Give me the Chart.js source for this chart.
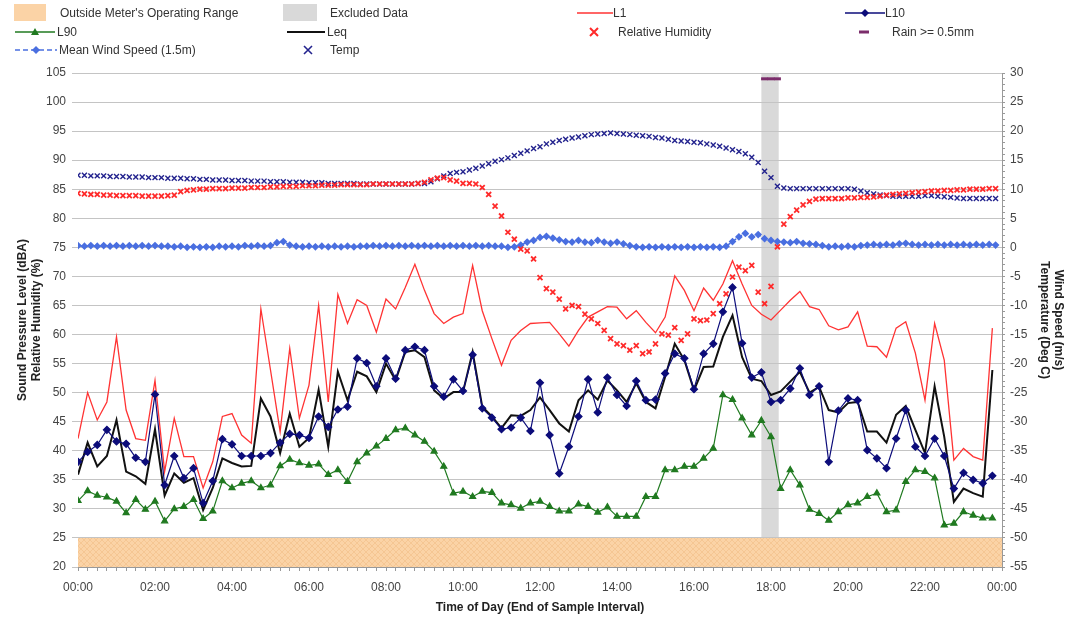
<!DOCTYPE html>
<html>
<head>
<meta charset="utf-8">
<script src="https://cdn.jsdelivr.net/npm/chart.js@4.4.1/dist/chart.umd.min.js"></script>
<style>
  html, body { margin: 0; padding: 0; background: #fff; }
  #wrap { position: relative; width: 1073px; height: 618px; font-family: "Liberation Sans", Arial, sans-serif; overflow: hidden; }
  #chart { position: absolute; left: 0; top: 0; }
  #legend { position: absolute; left: 0; top: 0; width: 1073px; height: 60px; font-size: 12px; color: #333; }
  #legend svg, #legend span { position: absolute; }
  #legend span { line-height: 14px; white-space: nowrap; }
</style>
</head>
<body>
<div id="wrap">
  <canvas id="chart" width="1073" height="618"></canvas>
  <div id="legend">
    <svg style="left:14px;top:4px" width="32" height="17"><rect width="32" height="17" fill="#fbd3a6"/></svg>
    <span style="left:60px;top:6px">Outside Meter's Operating Range</span>
    <svg style="left:283px;top:4px" width="34" height="17"><rect width="34" height="17" fill="#d9d9d9"/></svg>
    <span style="left:330px;top:6px">Excluded Data</span>
    <svg style="left:577px;top:7px" width="36" height="12"><line x1="0" y1="6" x2="36" y2="6" stroke="#ff3333" stroke-width="1.5"/></svg>
    <span style="left:613px;top:6px">L1</span>
    <svg style="left:845px;top:7px" width="40" height="12"><line x1="0" y1="6" x2="40" y2="6" stroke="#0c0c7a" stroke-width="1.5"/><polygon points="20,2 24,6 20,10 16,6" fill="#0c0c7a"/></svg>
    <span style="left:885px;top:6px">L10</span>

    <svg style="left:15px;top:26px" width="40" height="12"><line x1="0" y1="6" x2="40" y2="6" stroke="#207a20" stroke-width="1.5"/><polygon points="20,2 24,9 16,9" fill="#207a20"/></svg>
    <span style="left:57px;top:25px">L90</span>
    <svg style="left:287px;top:26px" width="38" height="12"><line x1="0" y1="6" x2="38" y2="6" stroke="#111" stroke-width="2"/></svg>
    <span style="left:327px;top:25px">Leq</span>
    <svg style="left:589px;top:26px" width="10" height="12"><path d="M1,2 L9,10 M9,2 L1,10" stroke="#ff2a2a" stroke-width="2"/></svg>
    <span style="left:618px;top:25px">Relative Humidity</span>
    <svg style="left:859px;top:26px" width="10" height="12"><line x1="0" y1="6" x2="10" y2="6" stroke="#7b2d6b" stroke-width="3"/></svg>
    <span style="left:892px;top:25px">Rain &gt;= 0.5mm</span>

    <svg style="left:15px;top:44px" width="42" height="12"><line x1="0" y1="6" x2="42" y2="6" stroke="#4a6fe0" stroke-width="1.5" stroke-dasharray="5,3"/><polygon points="21,2 25,6 21,10 17,6" fill="#4a6fe0"/></svg>
    <span style="left:59px;top:43px">Mean Wind Speed (1.5m)</span>
    <svg style="left:303px;top:44px" width="10" height="12"><path d="M1,2 L9,10 M9,2 L1,10" stroke="#23238e" stroke-width="1.6"/></svg>
    <span style="left:330px;top:43px">Temp</span>
  </div>
</div>
<script>
// noise levels, 15 minute intervals from 00:00 (dBA)
const NOISE_STEP_H = 0.25;
const L1 = [
  42.1, 50.0, 45.3, 48.4, 59.6, 47.0, 42.1, 41.8, 52.1, 36.4, 45.6, 39.0, 39.0, 33.6, 38.1, 45.9, 46.4, 42.7, 41.3, 64.4, 53.9, 43.3, 57.6, 45.6,
  51.3, 65.0, 48.4, 66.9, 61.9, 66.0, 65.0, 60.4, 66.1, 64.4, 68.1, 72.1, 67.6, 63.6, 61.9, 63.0, 63.6, 71.9, 64.1, 59.3, 54.7, 59.0, 60.7, 61.9,
  62.0, 62.1, 60.1, 58.0, 60.7, 63.0, 63.9, 64.8, 64.7, 62.7, 64.1, 62.1, 60.3, 63.0, 70.1, 67.6, 64.1, 68.0, 65.9, 68.7, 72.7, 68.7, 65.0, 63.5,
  62.5, 64.2, 65.9, 67.4, 64.8, 64.3, 61.5, 60.8, 61.3, 63.9, 58.0, 57.9, 56.1, 61.1, 62.2, 56.8, 48.7, 61.9, 55.6, 38.4, 40.4, 39.0, 38.4, 61.1
];
const L10 = [
  38.1, 39.8, 41.0, 43.6, 41.6, 41.2, 38.8, 38.1, 49.7, 34.1, 39.1, 35.3, 37.0, 31.0, 34.8, 42.0, 41.1, 39.1, 39.1, 39.1, 39.6, 41.4, 42.9, 42.7,
  42.2, 45.9, 44.1, 47.1, 47.6, 55.9, 55.1, 51.1, 55.9, 52.4, 57.3, 57.9, 57.3, 51.1, 49.3, 52.3, 50.3, 56.5, 47.3, 45.7, 43.7, 44.0, 45.7, 43.4,
  51.7, 42.7, 36.1, 40.7, 45.9, 52.3, 46.6, 52.6, 49.6, 47.7, 52.0, 48.7, 48.8, 53.3, 56.7, 55.9, 50.6, 56.7, 58.4, 63.9, 68.1, 58.5, 52.6, 53.5,
  48.4, 48.7, 50.7, 54.2, 49.6, 51.1, 38.1, 46.9, 49.0, 48.7, 40.1, 38.7, 37.0, 42.1, 47.0, 40.7, 39.1, 42.1, 39.1, 33.5, 36.2, 35.0, 34.4, 35.7
];
const L90 = [
  31.4, 33.1, 32.3, 32.0, 31.3, 29.3, 31.6, 29.9, 31.3, 27.9, 30.0, 30.4, 31.6, 28.3, 29.6, 34.8, 33.6, 34.4, 34.8, 33.6, 34.1, 37.4, 38.5, 37.9,
  37.5, 37.7, 35.9, 36.7, 34.7, 38.1, 39.6, 40.8, 42.1, 43.6, 43.9, 42.7, 41.6, 39.9, 37.3, 32.7, 33.0, 32.1, 33.0, 32.8, 31.0, 30.7, 30.1, 31.0,
  31.3, 30.4, 29.6, 29.6, 30.8, 30.4, 29.4, 30.3, 28.7, 28.7, 28.7, 32.1, 32.1, 36.7, 36.7, 37.3, 37.3, 38.7, 40.4, 49.6, 48.8, 45.6, 42.7, 45.2,
  42.4, 33.5, 36.7, 34.1, 29.9, 29.2, 28.0, 29.5, 30.7, 31.0, 32.1, 32.7, 29.5, 29.8, 34.7, 36.7, 36.4, 35.3, 27.2, 27.5, 29.5, 28.9, 28.4, 28.4
];
const LEQ = [
  35.9, 41.4, 37.3, 39.1, 45.3, 36.4, 35.6, 34.3, 43.7, 32.3, 36.1, 34.5, 35.3, 29.8, 33.6, 38.7, 37.9, 37.3, 37.4, 49.0, 45.9, 39.6, 46.4, 40.7,
  42.2, 50.5, 40.7, 53.6, 48.7, 53.6, 52.8, 50.1, 55.0, 52.1, 57.0, 57.3, 56.1, 50.4, 49.0, 50.1, 50.1, 57.0, 47.6, 45.9, 43.9, 46.1, 46.0, 47.0,
  49.2, 47.0, 44.7, 43.3, 48.7, 50.4, 48.8, 52.1, 50.4, 48.4, 51.6, 48.4, 47.3, 52.7, 58.4, 55.6, 50.4, 54.4, 54.5, 59.6, 63.3, 56.1, 52.4, 52.0,
  49.6, 50.2, 51.9, 53.6, 50.0, 51.0, 47.0, 46.6, 48.2, 48.4, 43.3, 43.3, 41.4, 46.2, 47.7, 43.6, 39.6, 51.1, 42.4, 31.2, 33.5, 32.7, 32.1, 53.9
];

// weather, 10 minute intervals from 00:00 (one row per hour)
const WEATHER_STEP_H = 1 / 6;
const RH = [
  84.3, 84.2, 84.1, 84.1, 84.0, 84.0,
  83.9, 83.9, 83.9, 83.9, 83.8, 83.8,
  83.8, 83.8, 83.9, 84.0, 84.6, 84.8,
  84.9, 85.0, 85.0, 85.1, 85.1, 85.1,
  85.2, 85.2, 85.2, 85.3, 85.3, 85.3,
  85.4, 85.4, 85.5, 85.5, 85.5, 85.6,
  85.6, 85.6, 85.7, 85.7, 85.7, 85.8,
  85.8, 85.8, 85.8, 85.8, 85.9, 85.9,
  85.9, 85.9, 85.9, 85.9, 85.9, 86.0,
  86.2, 86.6, 86.9, 87.0, 86.6, 86.4,
  86.0, 86.0, 85.9, 85.3, 84.1, 82.1,
  80.4, 77.6, 76.4, 74.7, 74.4, 73.0,
  69.8, 67.9, 67.3, 66.1, 64.4, 65.0,
  64.8, 63.5, 62.7, 61.9, 60.7, 59.3,
  58.4, 58.1, 57.3, 58.1, 56.7, 57.0,
  58.4, 60.1, 59.9, 61.2, 59.0, 60.1,
  62.7, 62.4, 62.5, 63.6, 65.3, 67.0,
  69.9, 71.6, 71.0, 71.9, 67.3, 65.3,
  68.3, 75.1, 79.0, 80.3, 81.4, 82.3,
  82.9, 83.3, 83.4, 83.4, 83.4, 83.4,
  83.5, 83.5, 83.6, 83.6, 83.7, 83.8,
  84.0, 84.1, 84.2, 84.3, 84.4, 84.5,
  84.6, 84.7, 84.7, 84.8, 84.8, 84.9,
  84.9, 85.0, 85.0, 85.0, 85.1, 85.1
];
const TEMP = [
  12.4, 12.4, 12.3, 12.3, 12.3, 12.2,
  12.2, 12.2, 12.1, 12.1, 12.1, 12.0,
  12.0, 12.0, 11.9, 11.9, 11.9, 11.8,
  11.8, 11.7, 11.7, 11.6, 11.6, 11.6,
  11.5, 11.5, 11.5, 11.4, 11.4, 11.4,
  11.3, 11.3, 11.3, 11.2, 11.2, 11.2,
  11.1, 11.1, 11.1, 11.0, 11.0, 11.0,
  11.0, 11.0, 10.9, 10.9, 10.9, 10.9,
  10.9, 10.9, 10.9, 10.9, 10.9, 11.0,
  11.0, 11.3, 11.8, 12.3, 12.7, 12.9,
  13.0, 13.3, 13.6, 14.0, 14.4, 14.8,
  15.1, 15.4, 15.8, 16.2, 16.6, 17.0,
  17.3, 17.8, 18.1, 18.4, 18.6, 18.8,
  19.0, 19.2, 19.4, 19.5, 19.6, 19.7,
  19.6, 19.5, 19.4, 19.3, 19.2, 19.1,
  18.9, 18.8, 18.6, 18.4, 18.3, 18.2,
  18.1, 18.0, 17.8, 17.6, 17.4, 17.1,
  16.8, 16.5, 16.1, 15.5, 14.6, 13.1,
  12.0, 10.5, 10.2, 10.1, 10.1, 10.1,
  10.1, 10.1, 10.1, 10.1, 10.1, 10.1,
  10.1, 10.0, 9.7, 9.4, 9.2, 9.0,
  8.9, 8.8, 8.8, 8.8, 8.8, 8.8,
  8.9, 8.9, 8.8, 8.7, 8.6, 8.5,
  8.4, 8.4, 8.4, 8.4, 8.4, 8.4
];
const WIND = [
  0.3, 0.2, 0.3, 0.2, 0.3, 0.2,
  0.3, 0.2, 0.3, 0.2, 0.3, 0.2,
  0.3, 0.2, 0.2, 0.1, 0.2, 0.0,
  0.1, 0.0, 0.1, 0.0, 0.2, 0.1,
  0.2, 0.1, 0.3, 0.2, 0.3, 0.2,
  0.3, 0.8, 1.0, 0.4, 0.2, 0.1,
  0.2, 0.1, 0.2, 0.1, 0.2, 0.1,
  0.2, 0.1, 0.2, 0.2, 0.3, 0.2,
  0.3, 0.2, 0.3, 0.2, 0.3, 0.2,
  0.3, 0.2, 0.3, 0.2, 0.3, 0.2,
  0.3, 0.2, 0.3, 0.2, 0.3, 0.2,
  0.2, 0.0, 0.1, 0.4, 0.9, 1.2,
  1.7, 1.9, 1.6, 1.3, 1.0, 0.9,
  1.2, 0.9, 0.8, 1.2, 0.9, 0.7,
  0.9, 0.6, 0.3, 0.1, 0.0, 0.1,
  0.0, 0.1, 0.0, 0.1, 0.0, 0.1,
  0.0, 0.1, 0.0, 0.1, 0.0, 0.2,
  1.0, 1.8, 2.4, 1.8, 2.2, 1.5,
  1.2, 1.0, 0.9, 0.8, 1.0, 0.7,
  0.6, 0.5, 0.3, 0.1, 0.2, 0.1,
  0.2, 0.1, 0.3, 0.4, 0.5, 0.4,
  0.5, 0.4, 0.6, 0.7, 0.5, 0.4,
  0.5, 0.4, 0.5, 0.4, 0.5, 0.4,
  0.5, 0.4, 0.5, 0.4, 0.5, 0.4
];
// rain >= 0.5mm flagged intervals (hours), drawn near top of right axis
const RAIN_TIMES = [17 + 50 / 60, 18, 18 + 10 / 60];
const RAIN_MARK = 29;

// shaded regions
const EXCLUDED_FROM = 17.75;
const EXCLUDED_TO = 18.2;
const RANGE_LOW = 20;
const RANGE_HIGH = 25;

const X_LABEL_EVERY_H = 2;

function toXY(values, step) {
  return values.map((v, i) => ({ x: i * step, y: v }));
}

function formatHour(h) {
  const hh = Math.round(h) % 24;
  return (hh < 10 ? "0" : "") + hh + ":00";
}

// hatched fill for the operating range band
function makeHatch() {
  const c = document.createElement("canvas");
  c.width = 6;
  c.height = 6;
  const g = c.getContext("2d");
  g.fillStyle = "#fbd3a6";
  g.fillRect(0, 0, 6, 6);
  g.strokeStyle = "#f5c693";
  g.lineWidth = 1;
  g.beginPath();
  g.moveTo(0, 6); g.lineTo(6, 0);
  g.moveTo(0, 0); g.lineTo(6, 6);
  g.stroke();
  return g.createPattern(c, "repeat");
}
const hatch = makeHatch();

const bandsPlugin = {
  id: "bands",
  beforeDraw(chart) {
    const { ctx, chartArea, scales } = chart;
    const x = scales.x, y = scales.y;
    ctx.save();
    const x0 = x.getPixelForValue(EXCLUDED_FROM);
    const x1 = x.getPixelForValue(EXCLUDED_TO);
    ctx.fillStyle = "#d9d9d9";
    ctx.fillRect(x0, chartArea.top, x1 - x0, chartArea.bottom - chartArea.top);
    const yTop = y.getPixelForValue(RANGE_HIGH);
    const yBot = y.getPixelForValue(RANGE_LOW);
    ctx.fillStyle = hatch;
    ctx.fillRect(chartArea.left, yTop, chartArea.right - chartArea.left, yBot - yTop);
    ctx.restore();
  }
};

const tickFont = { family: "'Liberation Sans', Arial, sans-serif", size: 12 };
const titleFont = { family: "'Liberation Sans', Arial, sans-serif", size: 12, weight: "bold" };

new Chart(document.getElementById("chart"), {
  type: "line",
  data: {
    datasets: [
      {
        label: "L10",
        data: toXY(L10, NOISE_STEP_H),
        borderColor: "#0c0c7a",
        backgroundColor: "#0c0c7a",
        borderWidth: 1.2,
        pointStyle: "rectRot",
        pointRadius: 3.5,
        yAxisID: "y"
      },
      {
        label: "Leq",
        data: toXY(LEQ, NOISE_STEP_H),
        borderColor: "#111111",
        borderWidth: 2,
        pointRadius: 0,
        yAxisID: "y"
      },
      {
        label: "L90",
        data: toXY(L90, NOISE_STEP_H),
        borderColor: "#207a20",
        backgroundColor: "#207a20",
        borderWidth: 1.2,
        pointStyle: "triangle",
        pointRadius: 3.5,
        yAxisID: "y"
      },
      {
        label: "L1",
        data: toXY(L1, NOISE_STEP_H),
        borderColor: "#ff3333",
        borderWidth: 1.3,
        pointRadius: 0,
        yAxisID: "y"
      },
      {
        label: "Relative Humidity",
        data: toXY(RH, WEATHER_STEP_H),
        showLine: false,
        borderColor: "#ff2a2a",
        backgroundColor: "#ff2a2a",
        pointStyle: "crossRot",
        pointRadius: 3.5,
        pointBorderWidth: 1.8,
        yAxisID: "y"
      },
      {
        label: "Temp",
        data: toXY(TEMP, WEATHER_STEP_H),
        showLine: false,
        borderColor: "#23238e",
        backgroundColor: "#23238e",
        pointStyle: "crossRot",
        pointRadius: 3.5,
        pointBorderWidth: 1.4,
        yAxisID: "y2"
      },
      {
        label: "Mean Wind Speed (1.5m)",
        data: toXY(WIND, WEATHER_STEP_H),
        borderColor: "#4a6fe0",
        backgroundColor: "#4a6fe0",
        borderWidth: 1.5,
        borderDash: [4, 3],
        pointStyle: "rectRot",
        pointRadius: 2.8,
        yAxisID: "y2"
      },
      {
        label: "Rain >= 0.5mm",
        data: RAIN_TIMES.map(t => ({ x: t, y: RAIN_MARK })),
        showLine: false,
        borderColor: "#7b2d6b",
        backgroundColor: "#7b2d6b",
        pointStyle: "line",
        pointRadius: 3.5,
        pointBorderWidth: 3,
        yAxisID: "y2"
      }
    ]
  },
  options: {
    responsive: false,
    animation: false,
    layout: { padding: { top: 73, left: 0, right: 0, bottom: 0 } },
    elements: { line: { tension: 0 } },
    plugins: { legend: { display: false }, tooltip: { enabled: false } },
    scales: {
      x: {
        type: "linear",
        min: 0,
        max: 24,
        afterFit(s) { s.height = 51; },
        ticks: {
          stepSize: NOISE_STEP_H,
          autoSkip: false,
          maxRotation: 0,
          padding: 9,
          color: "#444",
          font: tickFont,
          callback: v => (Math.abs(v / X_LABEL_EVERY_H - Math.round(v / X_LABEL_EVERY_H)) < 1e-6 ? formatHour(v) : "")
        },
        grid: { drawOnChartArea: false, tickLength: 4, color: "#999" },
        border: { color: "#999" },
        title: { display: true, text: "Time of Day (End of Sample Interval)", font: titleFont, color: "#222", padding: { top: 0, bottom: 3 } }
      },
      y: {
        position: "left",
        min: 20,
        max: 105,
        afterFit(s) { s.width = 78; },
        ticks: { stepSize: 5, padding: 6, color: "#444", font: tickFont },
        grid: { color: "#c4c4c4", tickLength: 6 },
        border: { display: false },
        title: { display: true, text: ["Sound Pressure Level (dBA)", "Relative Humidity (%)"], font: titleFont, color: "#222", padding: { top: 15, bottom: 0 } }
      },
      y2: {
        position: "right",
        min: -55,
        max: 30,
        afterFit(s) { s.width = 71; },
        ticks: {
          stepSize: 1,
          autoSkip: false,
          padding: 5,
          color: "#444",
          font: tickFont,
          callback: v => (v % 5 === 0 ? String(v) : "")
        },
        grid: { drawOnChartArea: false, tickLength: 3, color: "#999" },
        border: { color: "#999" },
        title: { display: true, text: ["Wind Speed (m/s)", "Temperature (Deg C)"], font: titleFont, color: "#222", padding: { top: 7, bottom: 0 } }
      }
    }
  },
  plugins: [bandsPlugin]
});
</script>
</body>
</html>
